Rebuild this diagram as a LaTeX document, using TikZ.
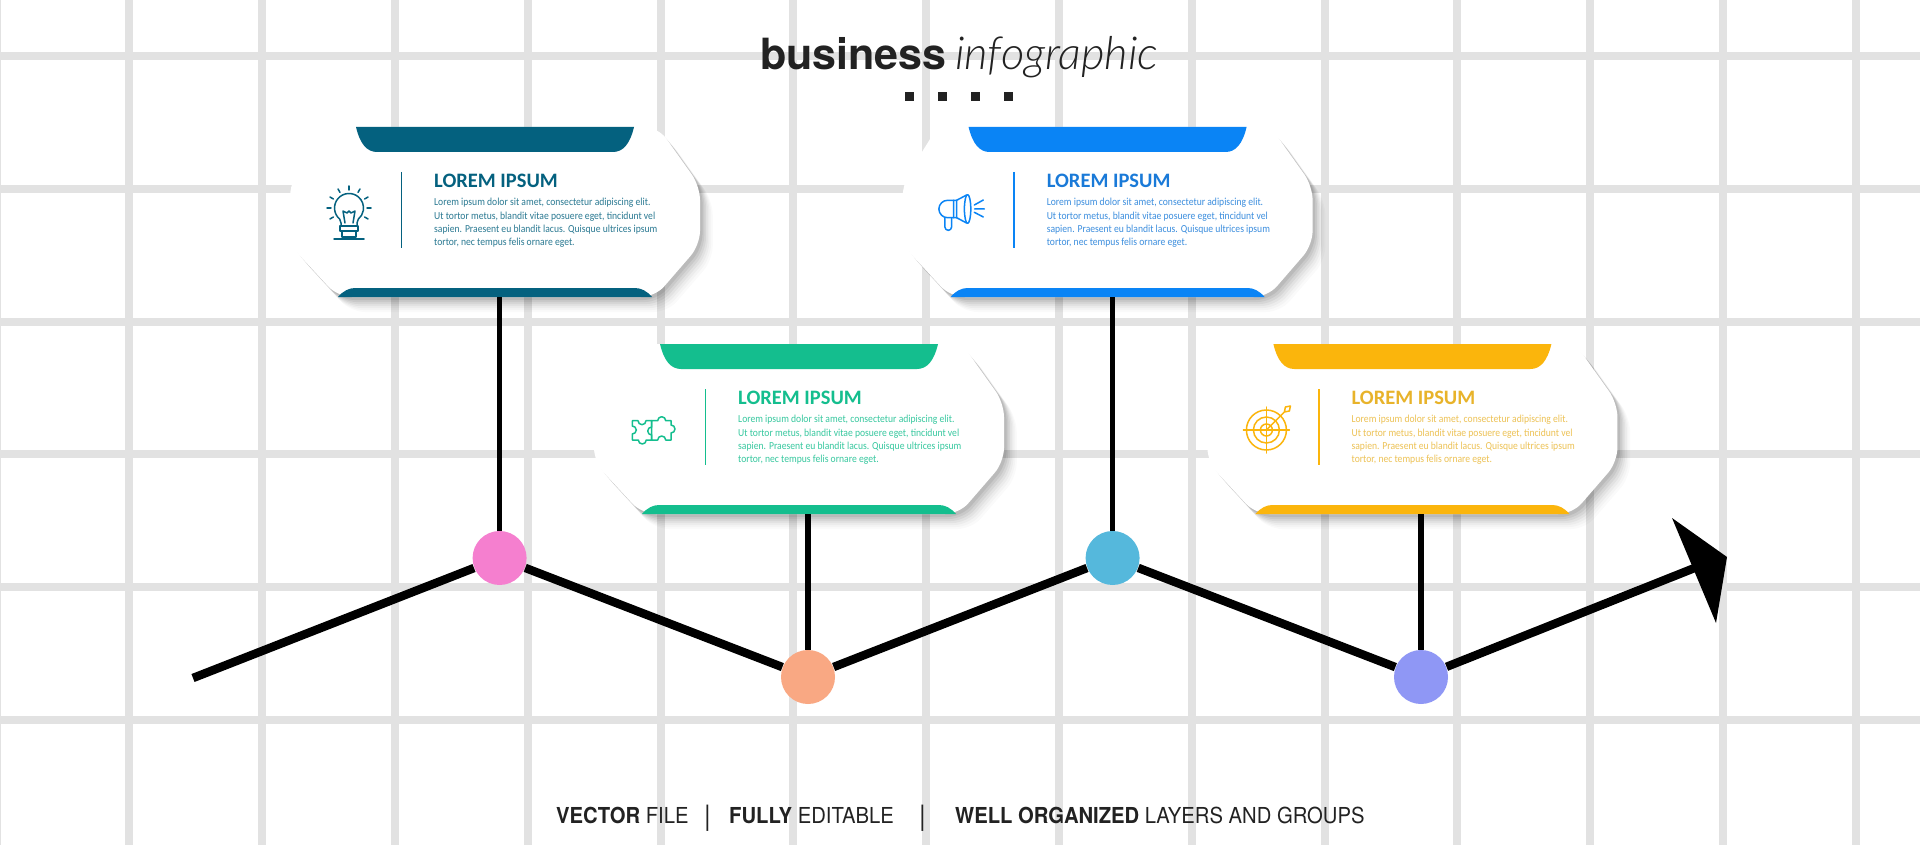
\documentclass[tikz,border=0pt]{standalone}
\usepackage{fontspec}
\setmainfont{Carlito}
\newfontfamily\bodyfont[FakeStretch=0.9]{Carlito}
\newfontfamily\headfont{TeX Gyre Heros}
\newfontfamily\footfont[FakeStretch=0.92]{TeX Gyre Heros}
\newfontfamily\lightfont{Lato Light}
\usetikzlibrary{positioning}

\definecolor{gridgray}{HTML}{E2E2E2}
\definecolor{inkdark}{HTML}{222222}
\definecolor{cardteal}{HTML}{04617F}
\definecolor{cardgreen}{HTML}{14BE8E}
\definecolor{cardblue}{HTML}{0A84F5}
\definecolor{cardyellow}{HTML}{FBB50C}
\definecolor{headblue}{HTML}{1A7AD8}
\definecolor{headyellow}{HTML}{E8B32A}
\definecolor{dotpink}{HTML}{F57FCF}
\definecolor{dotorange}{HTML}{F9A883}
\definecolor{dotcyan}{HTML}{55B8DC}
\definecolor{dotviolet}{HTML}{8F97F5}

\tikzset{
  gridline/.style={draw=gridgray,line width=8pt},
  dot/.style={circle,inner sep=0pt,minimum size=54pt,outer sep=0.5pt},
  track/.style={draw=black,line width=8.5pt},
  stem/.style={draw=black,line width=5.5pt},
  card/.style={rectangle,inner sep=0pt,minimum width=410pt,minimum height=170pt},
  cardhead/.style={anchor=west,inner sep=0pt,font=\bfseries\fontsize{20.5}{24}\selectfont},
  cardtext/.style={anchor=west,inner sep=0pt,align=left,font=\bodyfont\fontsize{10.7}{13.4}\selectfont},
  icon/.style={line width=1.5pt,line join=round,line cap=round},
  footertext/.style={anchor=base west,inner sep=0pt,text=inkdark,font=\footfont\fontsize{22}{26}\selectfont},
}

\newcommand{\cardoutline}{(-170,-85) -- (163,-85) -- (205,-26) -- (205,33) -- (160,85) -- (-157,85) -- (-205,33) -- (-205,-29) -- cycle}
\newcommand{\bulbicon}{
  \draw (-8,13) -- (-8,10) -- (-9.3,6.1) arc[start angle=130,end angle=410,radius=14.5] -- (8,10) -- (8,13);
  \draw (-9,13) rectangle (9,18) (-7,18) rectangle (7,24) (-15,26) -- (15,26);
  \draw (-4,10) -- (-6,-2) -- (-2,0) -- (0,-2) -- (2,0) -- (6,-2) -- (4,10);
  \foreach \a in {-90,-60,-30,0,30,-120,-150,180,150}
    \draw (0,-5) ++(\a:18) -- ++(\a:4);
}
\newcommand{\puzzleicon}{
  \draw (-20.7,-9.3) -- (-15,-9.3) arc[start angle=180,end angle=0,radius=4] -- (-1.3,-9.3)
    -- (-1.3,10) -- (-6.7,10) arc[start angle=0,end angle=180,radius=4] -- (-20.7,10)
    -- (-20.7,4) arc[start angle=90,end angle=-90,radius=4] -- cycle;
  \draw (-1.3,-9.3) -- (4.7,-9.3) arc[start angle=180,end angle=360,radius=4] -- (18,-9.3)
    -- (18,-5) arc[start angle=270,end angle=450,radius=4] -- (18,10) -- (12.7,10)
    arc[start angle=0,end angle=-180,radius=4] -- (-1.3,10) -- (-1.3,5)
    arc[start angle=90,end angle=270,radius=4] -- cycle;
}
\newcommand{\hornicon}{
  \draw (-5,-12.7) -- (-14,-12.7) arc[start angle=270,end angle=90,radius=8.7] -- (-5,4.7);
  \draw (-8,-12.7) -- (-8,4.7) (-5,-12.7) -- (-5,4.7) -- (5,10) (-5,-12.7) -- (5,-18);
  \draw (6,-4) ellipse[x radius=3.2,y radius=14.4];
  \draw (-16.7,4.7) -- (-16.7,14) arc[start angle=180,end angle=0,radius=3.35] -- (-10,4.7);
  \draw (12.7,-8) -- (21.7,-13) (13,-4) -- (22.7,-4) (12.7,-0.7) -- (21.7,4);
}
\newcommand{\targeticon}{
  \draw (0,0) circle[radius=20] (0,0) circle[radius=13] (0,0) circle[radius=6];
  \draw (-23,0) -- (23,0) (0,-23) -- (0,23);
  \draw (0,0) -- (18,-18) (18,-18) -- (19,-23) -- (24,-24) -- (23,-19) -- cycle;
}
\newcommand{\cardtrim}[5]{
  \begin{scope}[shift={(card_#1.center)}]
    \foreach \s/\o in {15/.02,13/.025,11/.03,9/.04,7/.05,5/.06,3/.07}
      \fill[black,opacity=\o,rounded corners=14pt,shift={(\s*.85,\s)}] \cardoutline;
    \fill[white,rounded corners=14pt] \cardoutline;
    \fill[#2] (-139,-85) -- (139,-85) .. controls (135,-68) and (128,-60) .. (118,-60) -- (-118,-60)
      .. controls (-128,-60) and (-135,-68) .. (-139,-85) -- cycle;
    \fill[#2] (-157,85) .. controls (-152,79) and (-146,76) .. (-140,76) -- (140,76)
      .. controls (146,76) and (152,79) .. (157,85) -- cycle;
    \draw[#2,line width=1.4pt] (-93.5,-40) -- (-93.5,36);
    \begin{scope}[shift={(-146,1)},draw=#2,icon]
      #3
    \end{scope}
    \node[cardhead,text=#4] (head_#1) at (-61,-31) {LOREM IPSUM};
    \node[cardtext,text=#5] (text_#1) at (-61,11) {Lorem ipsum dolor sit amet, consectetur adipiscing elit.\\
      Ut tortor metus, blandit vitae posuere eget, tincidunt vel\\
      sapien. Praesent eu blandit lacus. Quisque ultrices ipsum\\
      tortor, nec tempus felis ornare eget.};
  \end{scope}
}

\begin{document}
\begin{tikzpicture}[x=1pt,y=-1pt]
  \useasboundingbox (0,0) rectangle (1920,845);
  \begin{scope}
    \clip (0,0) rectangle (1920,845);
    \fill[white] (0,0) rectangle (1920,845);
    \foreach \k in {-1,...,13}
      \draw[gridline] ({129.4+132.8*\k},0) -- ++(0,845);
    \foreach \k in {0,...,5}
      \draw[gridline] (0,{56+132.8*\k}) -- ++(1920,0);
  \end{scope}

  % title
  \node[anchor=base west,inner sep=0pt,text=inkdark,font=\headfont\bfseries\fontsize{43}{50}\selectfont] (title_bold) at (760,70) {business};
  \node[base right=8pt of title_bold,inner sep=0pt,text=inkdark,font=\lightfont\itshape\fontsize{45.5}{50}\selectfont] (title_light) {infographic};
  \foreach \x in {909,942,975,1008}
    \fill[inkdark] (\x-4.5,92.5) rectangle ++(9,9);

  % points on the line
  \begin{scope}[on grid]
    \node[dot,fill=dotpink] (dot_1) at (499.6,558) {};
    \node[dot,fill=dotorange] [below right=119pt and 308.4pt of dot_1] (dot_2) {};
    \node[dot,fill=dotcyan] [above right=119pt and 304.6pt of dot_2] (dot_3) {};
    \node[dot,fill=dotviolet] [below right=119pt and 308.4pt of dot_3] (dot_4) {};

    \node[card] [above left=346pt and 4.6pt of dot_1] (card_1) {};
    \node[card] [above left=248pt and 9pt of dot_2] (card_2) {};
    \node[card] [above left=346pt and 5pt of dot_3] (card_3) {};
    \node[card] [above left=248pt and 8.6pt of dot_4] (card_4) {};
  \end{scope}

  \cardtrim{1}{cardteal}{\bulbicon}{cardteal}{cardteal!85!white}
  \cardtrim{2}{cardgreen}{\puzzleicon}{cardgreen}{cardgreen!85!white}
  \cardtrim{3}{cardblue}{\hornicon}{headblue}{headblue!85!white}
  \cardtrim{4}{cardyellow}{\targeticon}{headyellow}{headyellow!80!white}

  % stems and line
  \foreach \n in {1,...,4}
    \draw[stem] (card_\n.south -| dot_\n) -- (dot_\n);
  \coordinate (line_start) at (193,678);
  \coordinate (arrow_end) at (1697,567);
  \coordinate (arrow_tip) at (1727,557);
  \coordinate (arrow_top) at (1672,518);
  \coordinate (arrow_low) at (1716,623);
  \draw[track] (line_start) -- (dot_1);
  \draw[track] (dot_1) -- (dot_2);
  \draw[track] (dot_2) -- (dot_3);
  \draw[track] (dot_3) -- (dot_4);
  \draw[track] (dot_4) -- (arrow_end);
  \fill[black] (arrow_top) -- (arrow_tip) -- (arrow_low) -- cycle;

  % footer
  \node[footertext] (foot_1) at (556,823) {\textbf{VECTOR} FILE};
  \node[footertext,font=\footfont\fontsize{28}{30}\selectfont] (foot_sep_1) at (704,825) {|};
  \node[footertext] (foot_2) at (729,823) {\textbf{FULLY} EDITABLE};
  \node[footertext,font=\footfont\fontsize{28}{30}\selectfont] (foot_sep_2) at (919,825) {|};
  \node[footertext] (foot_3) at (955,823) {\textbf{WELL ORGANIZED} LAYERS AND GROUPS};
\end{tikzpicture}
\end{document}
